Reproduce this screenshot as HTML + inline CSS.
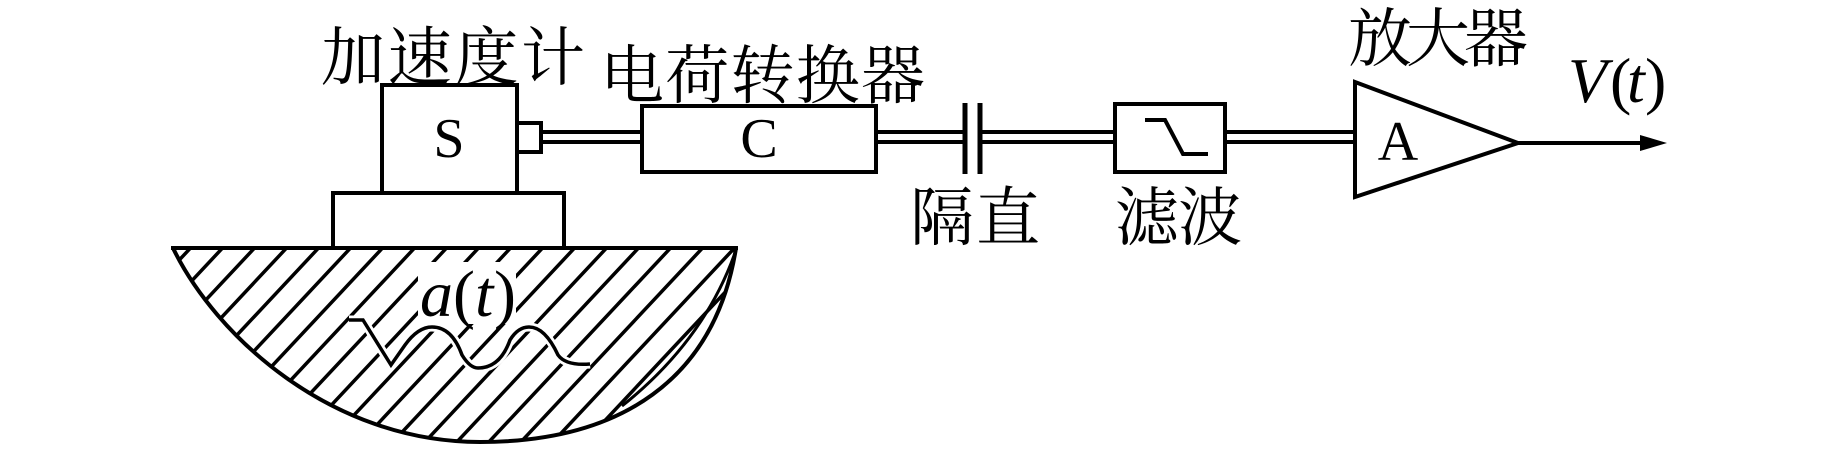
<!DOCTYPE html>
<html><head><meta charset="utf-8"><style>
html,body{margin:0;padding:0;background:#fff;}
svg{display:block;}
text{font-family:"Liberation Serif","Noto Serif CJK SC",serif;fill:#000;}
</style></head><body>
<svg width="1843" height="449" viewBox="0 0 1843 449" xmlns="http://www.w3.org/2000/svg">
<defs>
<clipPath id="g"><path d="M173,248 C215,335 330,442 480,442 C620,442 715,380 736,248 Z"/></clipPath>
</defs>
<g clip-path="url(#g)" stroke="#000" stroke-width="3.5">
<line x1="-40" y1="460" x2="166" y2="240"/><line x1="-8" y1="460" x2="198" y2="240"/><line x1="24" y1="460" x2="230" y2="240"/><line x1="56" y1="460" x2="262" y2="240"/><line x1="88" y1="460" x2="294" y2="240"/><line x1="120" y1="460" x2="326" y2="240"/><line x1="152" y1="460" x2="358" y2="240"/><line x1="184" y1="460" x2="390" y2="240"/><line x1="216" y1="460" x2="422" y2="240"/><line x1="248" y1="460" x2="454" y2="240"/><line x1="280" y1="460" x2="486" y2="240"/><line x1="312" y1="460" x2="518" y2="240"/><line x1="344" y1="460" x2="550" y2="240"/><line x1="376" y1="460" x2="582" y2="240"/><line x1="408" y1="460" x2="614" y2="240"/><line x1="440" y1="460" x2="646" y2="240"/><line x1="472" y1="460" x2="678" y2="240"/><line x1="504" y1="460" x2="710" y2="240"/><line x1="536" y1="460" x2="742" y2="240"/><line x1="568" y1="460" x2="774" y2="240"/><line x1="600" y1="460" x2="806" y2="240"/><line x1="632" y1="460" x2="838" y2="240"/>
</g>
<rect x="418" y="262" width="98" height="62" fill="#fff"/>
<path d="M173,248 C215,335 330,442 480,442 C620,442 715,380 736,248" fill="none" stroke="#000" stroke-width="4"/>
<path d="M736,250 Q705,340 622,406" fill="none" stroke="#000" stroke-width="3"/>
<line x1="171" y1="248" x2="738" y2="248" stroke="#000" stroke-width="4"/>
<path d="M349,320 L363,320 L391,365 L405,345 Q418,327 432,327 Q452,327 462,355 Q470,368 478,368 Q500,368 510,340 Q518,327 529,327 Q545,327 558,355 Q566,366 590,364" fill="none" stroke="#fff" stroke-width="9"/>
<path d="M349,320 L363,320 L391,365 L405,345 Q418,327 432,327 Q452,327 462,355 Q470,368 478,368 Q500,368 510,340 Q518,327 529,327 Q545,327 558,355 Q566,366 590,364" fill="none" stroke="#000" stroke-width="3.5"/>
<text x="420" y="316" font-size="66" font-style="italic">a</text>
<text x="453" y="316" font-size="66">(</text>
<text x="475" y="316" font-size="66" font-style="italic">t</text>
<text x="494" y="316" font-size="66">)</text>
<rect x="333" y="193" width="231" height="55" fill="#fff" stroke="#000" stroke-width="4"/>
<rect x="382" y="85" width="135" height="108" fill="#fff" stroke="#000" stroke-width="4"/>
<text x="449" y="157" font-size="56" text-anchor="middle">S</text>
<rect x="517" y="123" width="24" height="29" fill="#fff" stroke="#000" stroke-width="4"/>
<g stroke="#000" stroke-width="4">
<line x1="541" y1="132" x2="640" y2="132"/><line x1="541" y1="142" x2="640" y2="142"/>
<line x1="876" y1="132" x2="965" y2="132"/><line x1="876" y1="142" x2="965" y2="142"/>
<line x1="980" y1="132" x2="1115" y2="132"/><line x1="980" y1="142" x2="1115" y2="142"/>
<line x1="1225" y1="132" x2="1355" y2="132"/><line x1="1225" y1="142" x2="1355" y2="142"/>
<line x1="965" y1="103" x2="965" y2="174" stroke-width="5"/>
<line x1="980" y1="103" x2="980" y2="174" stroke-width="5"/>
<line x1="1518" y1="143" x2="1650" y2="143"/>
</g>
<polygon points="1667,143 1640,135 1640,151" fill="#000"/>
<rect x="642" y="106" width="234" height="66" fill="#fff" stroke="#000" stroke-width="4"/>
<text x="759" y="157" font-size="56" text-anchor="middle">C</text>
<rect x="1115" y="104" width="110" height="68" fill="#fff" stroke="#000" stroke-width="4"/>
<path d="M1145,120 L1165,120 L1183,154 L1208,154" fill="none" stroke="#000" stroke-width="4"/>
<polygon points="1355,82 1518,143 1355,197" fill="#fff" stroke="#000" stroke-width="4"/>
<text x="1398" y="160" font-size="56" text-anchor="middle">A</text>
<text x="321" y="80" font-size="64" textLength="264">加速度计</text>
<text x="600" y="98" font-size="64" textLength="325">电荷转换器</text>
<text x="910" y="240" font-size="64" textLength="130">隔直</text>
<text x="1115" y="240" font-size="64" textLength="127">滤波</text>
<text x="1348" y="61" font-size="64" textLength="180">放大器</text>
<text x="1568" y="102" font-size="64" font-style="italic">V</text>
<text x="1610" y="102" font-size="64">(</text>
<text x="1627" y="102" font-size="64" font-style="italic">t</text>
<text x="1645" y="102" font-size="64">)</text>
</svg>
</body></html>
